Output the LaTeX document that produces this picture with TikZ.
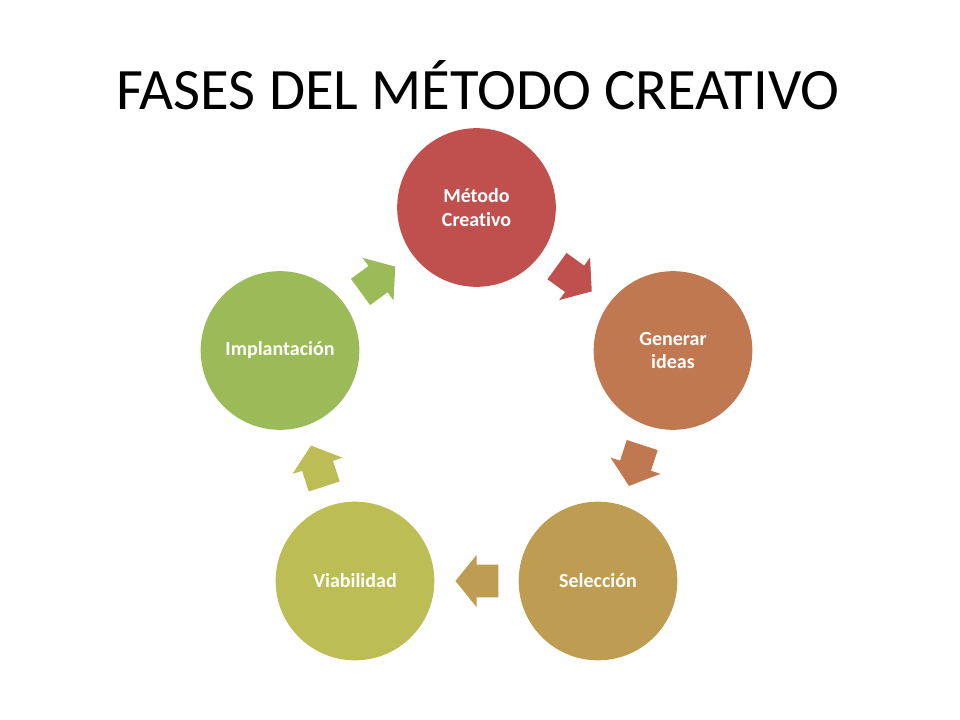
\documentclass[tikz,border=0pt]{standalone}
\usepackage{fontspec}
\setmainfont{Carlito}[Ligatures=NoCommon]
\usetikzlibrary{shapes.arrows}
\definecolor{cMetodo}{RGB}{192,80,77}
\definecolor{cGenerar}{RGB}{192,120,80}
\definecolor{cSeleccion}{RGB}{190,156,82}
\definecolor{cViabilidad}{RGB}{188,189,85}
\definecolor{cImplantacion}{RGB}{155,187,89}
\begin{document}
\begin{tikzpicture}[x=0.75pt, y=-0.75pt,
    phase/.style={circle, minimum size=119pt, inner sep=0pt, align=center, text=white, font=\fontsize{15}{17.5}\selectfont\bfseries},
    cyclearrow/.style={single arrow, draw=none, inner xsep=0pt, inner ysep=12pt, minimum height=32.25pt, single arrow head extend=7.5pt, single arrow tip angle=102, sloped, allow upside down, anchor=tail, pos=0.235}]
        \useasboundingbox (0,0) rectangle (960,720);

        % Title
        \node[anchor=base, font=\fontsize{44}{52}\selectfont] (title) at (478,110) {FASES DEL MÉTODO CREATIVO};

        % Phases of the cycle
        \node[phase, fill=cMetodo] (M) at (476.5,207.5) {Método\\Creativo};
        \node[phase, fill=cGenerar] (G) at (673,350.5) {Generar\\ideas};
        \node[phase, fill=cSeleccion] (S) at (598,581) {Selección};
        \node[phase, fill=cViabilidad] (V) at (355,581) {Viabilidad};
        \node[phase, fill=cImplantacion] (I) at (280,350.5) {Implantación};

        % Arrows between phases
        \path (M) -- node[cyclearrow, fill=cMetodo] (MG) {} (G);
        \path (G) -- node[cyclearrow, fill=cGenerar] (GS) {} (S);
        \path (S) -- node[cyclearrow, fill=cSeleccion] (SV) {} (V);
        \path (V) -- node[cyclearrow, fill=cViabilidad] (VI) {} (I);
        \path (I) -- node[cyclearrow, fill=cImplantacion] (IM) {} (M);
    \end{tikzpicture}
\end{document}
